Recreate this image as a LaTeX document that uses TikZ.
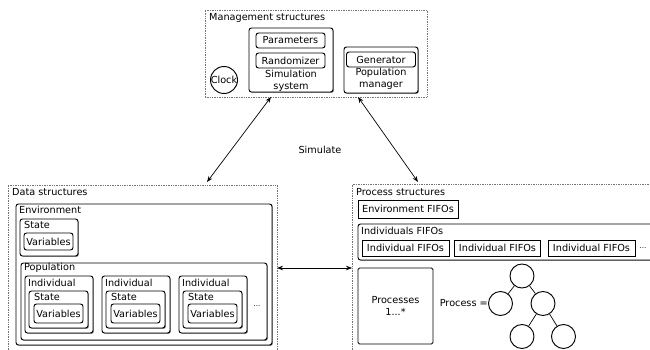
\documentclass[tikz,border=0pt]{standalone}
\usepackage{fontspec}
\setmainfont{DejaVu Sans}
\usetikzlibrary{fit,shadows,arrows.meta}
\tikzset{
  container/.style={draw=black!55, dash pattern=on 0.7pt off 1pt, line width=0.5pt, inner sep=0pt},
  rbox/.style={draw=black, line width=0.95pt, rounded corners=2.5pt, fill=white, inner sep=0pt,
    drop shadow={shadow xshift=0.9pt, shadow yshift=-0.9pt, fill=black!45, opacity=1}},
  sbox/.style={draw=black, line width=0.95pt, fill=white, inner sep=0pt, align=center},
  vbox/.style={draw=black, line width=0.95pt, rounded corners=2.5pt, fill=white, inner sep=0pt, align=center},
  lbl/.style={anchor=west, inner sep=0pt},
  txt/.style={inner sep=0pt, align=center},
  circ/.style={draw=black, line width=0.95pt, circle, inner sep=0pt, fill=white},
  dbl/.style={{Stealth[length=6pt,width=4.5pt]}-{Stealth[length=6pt,width=4.5pt]}, line width=0.7pt},
}
\begin{document}
\begin{tikzpicture}[x=1pt, y=-1pt, font=\fontsize{9.7}{12}\selectfont]
\useasboundingbox (0,0) rectangle (650,350);

% Management structures
\node[container, fit={(205,10)(427,97)}] (mgmt) {};
\node[lbl] (mgmtlbl) at (209,18) {Management structures};
\node[circ, minimum size=27pt] (clock) at (224,80) {};
\node[txt] (clocklbl) at (224,80) {Clock};
\node[rbox, fit={(249,28)(333,92)}] (sim) {};
\node[vbox, minimum width=69pt, minimum height=15pt] (param) at (290.5,40.5) {Parameters};
\node[vbox, minimum width=69pt, minimum height=15pt] (rand) at (290.5,60.5) {Randomizer};
\node[txt] (simlbl) at (291,81) {Simulation\\system};
\node[rbox, fit={(344,47)(418,93)}] (popman) {};
\node[vbox, minimum width=69pt, minimum height=15pt] (gen) at (381,59.5) {Generator};
\node[txt] (popmanlbl) at (381,79) {Population\\manager};

% Simulate arrows
\coordinate (a1t) at (271,97);
\coordinate (a1b) at (207,182);
\coordinate (a2t) at (358,97);
\coordinate (a2b) at (418,182);
\draw[dbl] (a1t) -- (a1b);
\draw[dbl] (a2t) -- (a2b);
\node[txt] (simulate) at (320,150) {Simulate};

% Data structures
\node[container, fit={(8,185)(277,365)}] (data) {};
\node[lbl] (datalbl) at (12,192) {Data structures};
\node[rbox, fit={(16,204)(272,345)}] (env) {};
\node[lbl] (envlbl) at (19,210) {Environment};
\node[rbox, fit={(20,219)(78,256)}] (envstate) {};
\node[lbl] (envstatelbl) at (24,225) {State};
\node[vbox, minimum width=49pt, minimum height=17pt] (envvar) at (48.5,241.5) {Variables};
\node[rbox, fit={(21,263)(267,340)}] (pop) {};
\node[lbl] (poplbl) at (24,268) {Population};
\foreach \x/\n in {25/a,102/b,179/c}{
  \node[rbox, fit={(\x,276)(\x+68,333)}] (ind\n) {};
  \node[lbl] (ind\n lbl) at (\x+3,283) {Individual};
  \node[rbox, fit={(\x+4,291)(\x+63,328)}] (ist\n) {};
  \node[lbl] (ist\n lbl) at (\x+9,297) {State};
  \node[vbox, minimum width=49pt, minimum height=19pt] (ivar\n) at (\x+33.5,313.5) {Variables};
}
\node[txt] (popdots) at (257,306) {\fontsize{7}{8}\selectfont ...};

% Process structures
\node[container, fit={(352,184)(665,365)}] (proc) {};
\node[lbl] (proclbl) at (356,192) {Process structures};
\node[sbox, minimum width=100pt, minimum height=18pt] (envfifo) at (408,209) {Environment FIFOs};
\node[rbox, fit={(358,224)(665,260)}] (indfifos) {};
\node[lbl] (indfifoslbl) at (361,231) {Individuals FIFOs};
\node[sbox, minimum width=87pt, minimum height=16pt] (if1) at (405.5,248) {Individual FIFOs};
\node[sbox, minimum width=86pt, minimum height=16pt] (if2) at (497.5,248) {Individual FIFOs};
\node[sbox, minimum width=87pt, minimum height=16pt] (if3) at (591.5,248) {Individual FIFOs};
\node[txt] (ifdots) at (643,248) {\fontsize{7}{8}\selectfont ...};
\node[vbox, rounded corners=1.5pt, minimum width=75pt, minimum height=76pt] (procs) at (395.5,306) {Processes\\1...*};
\node[txt, anchor=east] (proceq) at (488,303) {Process =};
\node[circ, minimum size=24pt] (t0) at (522,276) {};
\node[circ, minimum size=24pt] (t1) at (500.5,303.5) {};
\node[circ, minimum size=24pt] (t2) at (543,303.5) {};
\node[circ, minimum size=24pt] (t3) at (522,336.5) {};
\node[circ, minimum size=24pt] (t4) at (563.5,336.5) {};
\draw[line width=0.7pt] (t0) -- (t1) (t0) -- (t2) (t2) -- (t3) (t2) -- (t4);

% Data <-> Process
\coordinate (h1) at (277,268);
\coordinate (h2) at (352,268);
\draw[dbl] (h1) -- (h2);
\end{tikzpicture}
\end{document}
